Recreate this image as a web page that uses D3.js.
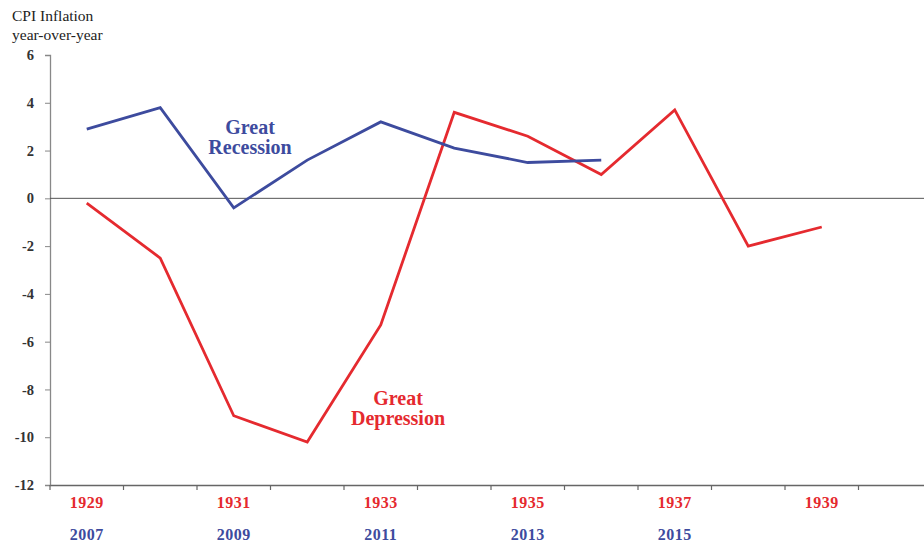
<!DOCTYPE html>
<html><head><meta charset="utf-8">
<script src="https://cdn.jsdelivr.net/npm/d3@7"></script>
<style>body{margin:0;background:#fff}svg{display:block}</style>
</head><body><svg width="924" height="543"></svg>
<script>
const depressionYears = [1929,1930,1931,1932,1933,1934,1935,1936,1937,1938,1939,1940];
const depressionValues = [-0.2,-2.5,-9.1,-10.2,-5.3,3.6,2.6,1.0,3.7,-2.0,-1.2,null];
const recessionYears = [2007,2008,2009,2010,2011,2012,2013,2014];
const recessionValues = [2.9,3.8,-0.4,1.6,3.2,2.1,1.5,1.6];
const yTicks = [6,4,2,0,-2,-4,-6,-8,-10,-12];
const depressionLabels = [1929,1931,1933,1935,1937,1939];
const recessionLabels = [2007,2009,2011,2013,2015];

const svg = d3.select("svg");
const serif = "'Liberation Serif','DejaVu Serif',serif";
const red = "#e52a2f", blue = "#3d4b9e";

const x = d3.scaleBand().domain(d3.range(12)).range([50, 932]).paddingInner(0).paddingOuter(0);
const y = d3.scaleLinear().domain([-12, 6]).range([485, 55]);
const cx = i => x(i) + x.bandwidth()/2;

// y axis
const yAxis = svg.append("g").attr("transform","translate(50,0)")
  .call(d3.axisLeft(y).tickValues(yTicks).tickSize(5).tickFormat(d => String(d)));
yAxis.select(".domain").attr("stroke","#888").attr("stroke-width",1.3);
yAxis.selectAll(".tick line").attr("stroke","#888");
yAxis.selectAll("text").attr("font-family",serif).attr("font-size",14.5).attr("font-weight","bold").attr("fill","#333").attr("x",-16);

// x axis
const xAxis = svg.append("g").attr("transform","translate(0,485)")
  .call(d3.axisBottom(x).tickValues([]).tickSizeOuter(0));
xAxis.select(".domain").attr("stroke","#666").attr("stroke-width",1.5);
xAxis.selectAll(".tk").data(d3.range(13)).join("line")
  .attr("x1", i => 50 + i*x.bandwidth()).attr("x2", i => 50 + i*x.bandwidth())
  .attr("y1",0).attr("y2",5).attr("stroke","#666").attr("stroke-width",1.2);

// zero line
svg.append("line").attr("x1",50).attr("x2",924).attr("y1",y(0)).attr("y2",y(0))
  .attr("stroke","#555").attr("stroke-width",1);

// lines
const line = d3.line().defined(d => d[1] !== null).x(d => cx(d[0])).y(d => y(d[1]));
svg.append("path").datum(depressionValues.map((v,i)=>[i,v]))
  .attr("d", line).attr("fill","none").attr("stroke",red).attr("stroke-width",2.8).attr("stroke-linejoin","miter");
svg.append("path").datum(recessionValues.map((v,i)=>[i,v]))
  .attr("d", line).attr("fill","none").attr("stroke",blue).attr("stroke-width",2.8).attr("stroke-linejoin","miter");

// category labels
svg.selectAll(".dl").data(depressionLabels).join("text")
  .attr("x", d => cx(depressionYears.indexOf(d))).attr("y", 508)
  .attr("text-anchor","middle").attr("font-family",serif).attr("font-size",16).attr("font-weight","bold")
  .attr("letter-spacing",0.5).attr("fill",red).text(d => d);
svg.selectAll(".rl").data(recessionLabels).join("text")
  .attr("x", (d,i) => cx(i*2)).attr("y", 540)
  .attr("text-anchor","middle").attr("font-family",serif).attr("font-size",16).attr("font-weight","bold")
  .attr("letter-spacing",0.5).attr("fill",blue).text(d => d);

// title
const t = svg.append("text").attr("font-family",serif).attr("font-size",15.5).attr("fill","#222");
t.append("tspan").attr("x",12).attr("y",21).text("CPI Inflation");
t.append("tspan").attr("x",12).attr("y",40).text("year-over-year");

// annotations
const a1 = svg.append("text").attr("font-family",serif).attr("font-size",20).attr("font-weight","bold").attr("fill",blue).attr("text-anchor","middle");
a1.append("tspan").attr("x",250).attr("y",134).text("Great");
a1.append("tspan").attr("x",250).attr("y",154).text("Recession");
const a2 = svg.append("text").attr("font-family",serif).attr("font-size",20).attr("font-weight","bold").attr("fill",red).attr("text-anchor","middle");
a2.append("tspan").attr("x",398).attr("y",405).text("Great");
a2.append("tspan").attr("x",398).attr("y",425).text("Depression");
</script></body></html>
